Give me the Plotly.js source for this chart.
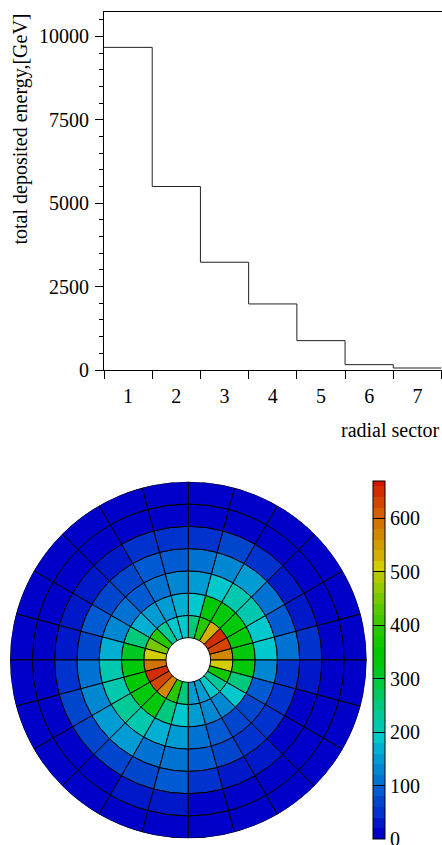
<!DOCTYPE html>
<html><head><meta charset="utf-8">
<script src="https://cdn.plot.ly/plotly-3.0.1.min.js"></script>
<style>html,body{margin:0;padding:0;background:#fff;}#chart{width:442px;height:845px;}</style>
</head><body><div id="chart"></div>
<script>
// ---- data ----
const radialSector = [1, 2, 3, 4, 5, 6, 7];
const totalEnergy = [9670, 5500, 3230, 1980, 880, 160, 60];
const energyTicks = [0, 2500, 5000, 7500, 10000];
const energyTickText = ['0', '2500', '5000', '7500', '10000'];

const angularSector = [0,1,2,3,4,5,6,7,8,9,10,11,12,13,14,15,16,17,18,19,20,21,22,23];
const ring1 = [565, 625, 650, 530, 395, 255, 185, 190, 225, 385, 450, 505, 595, 655, 625, 565, 385, 255, 150, 145, 190, 225, 375, 505];
const ring2 = [330, 330, 325, 330, 345, 185, 170, 150, 140, 165, 245, 315, 330, 345, 335, 325, 250, 195, 140, 120, 120, 180, 245, 325];
const ring3 = [190, 190, 210, 210, 190, 150, 130, 110, 90, 110, 130, 170, 210, 210, 230, 210, 170, 150, 110, 90, 70, 70, 90, 130];
const ring4 = [110, 90, 110, 150, 130, 110, 90, 90, 70, 70, 90, 70, 110, 130, 150, 150, 110, 110, 90, 70, 50, 50, 50, 50];
const ring5 = [40, 30, 30, 50, 70, 50, 50, 50, 30, 30, 30, 30, 50, 70, 70, 70, 70, 90, 50, 30, 30, 10, 10, 30];
const ring6 = [8, 6, 6, 8, 10, 12, 12, 8, 6, 5, 5, 6, 8, 10, 12, 15, 25, 28, 15, 8, 5, 4, 4, 5];
const ring7 = [2, 2, 2, 3, 3, 3, 3, 2, 2, 2, 2, 2, 3, 3, 4, 5, 6, 8, 4, 3, 2, 2, 2, 2];
const colorTicks = [0, 100, 200, 300, 400, 500, 600];
const zMax = 670;
const bandWidth = 20;

// ---- style ----
const palette = [
  'rgb(0,0,200)','rgb(0,25,200)','rgb(0,50,205)','rgb(0,70,205)','rgb(0,90,210)',
  'rgb(0,115,210)','rgb(0,135,210)','rgb(0,155,210)','rgb(0,175,210)','rgb(0,200,205)',
  'rgb(0,200,175)','rgb(0,200,150)','rgb(0,200,125)','rgb(0,200,95)','rgb(0,200,65)',
  'rgb(0,200,35)','rgb(0,200,10)','rgb(0,200,0)','rgb(20,200,0)','rgb(40,200,0)',
  'rgb(65,200,0)','rgb(90,200,0)','rgb(120,200,0)','rgb(150,200,0)','rgb(180,200,0)',
  'rgb(210,205,0)','rgb(210,175,0)','rgb(210,155,0)','rgb(210,135,0)','rgb(210,115,0)',
  'rgb(210,95,0)','rgb(210,70,0)','rgb(210,45,0)','rgb(210,20,0)'
];
const FONT = '"Liberation Serif", "Times New Roman", Times, serif';
const W = 442, H = 845;

// ---- build ----
const rings = [ring1, ring2, ring3, ring4, ring5, ring6, ring7];
const edges = radialSector.map(s => s - 0.5).concat([radialSector[radialSector.length - 1] + 0.5]);
const stepY = totalEnergy.concat([totalEnergy[totalEnergy.length - 1]]);

const step = 360 / angularSector.length;
const theta = [], r = [], base = [], color = [], width = [];
rings.forEach((vals, i) => {
  vals.forEach((v, k) => {
    theta.push((angularSector[k] + 0.5) * step);
    r.push(1);
    base.push(radialSector[i]);
    color.push(v);
    width.push(step);
  });
});

const cMin = 0;
const colorscale = [];
palette.forEach((c, i) => {
  const lo = (Math.min(i * bandWidth, zMax) - cMin) / (zMax - cMin);
  const hi = (Math.min((i + 1) * bandWidth, zMax) - cMin) / (zMax - cMin);
  colorscale.push([lo, c], [hi, c]);
});

const histTrace = {
  type: 'scatter', mode: 'lines', x: edges, y: stepY,
  line: { shape: 'hv', color: '#222', width: 1 },
  xaxis: 'x', yaxis: 'y', hoverinfo: 'skip'
};

const polarTrace = {
  type: 'barpolar', subplot: 'polar', theta: theta, r: r, base: base, width: width,
  hoverinfo: 'skip',
  marker: {
    color: color, colorscale: colorscale, cmin: cMin, cmax: zMax,
    line: { color: 'black', width: 1 },
    colorbar: {
      thickness: 12, thicknessmode: 'pixels', len: 358, lenmode: 'pixels',
      x: 373 / W, xanchor: 'left', xpad: 0,
      y: (H - 660) / H, yanchor: 'middle', ypad: 0,
      outlinecolor: 'black', outlinewidth: 1,
      tickmode: 'array', tickvals: colorTicks, ticktext: colorTicks.map(String),
      ticks: 'inside', ticklen: 12, tickcolor: 'black', tickwidth: 1,
      ticklabeloverflow: 'allow',
      tickfont: { family: FONT, size: 20, color: 'black' }
    }
  }
};

const layout = {
  width: W, height: H, margin: { l: 0, r: 0, t: 0, b: 0 },
  showlegend: false, paper_bgcolor: 'white', plot_bgcolor: 'white',
  font: { family: FONT, size: 20, color: 'black' },
  xaxis: {
    domain: [104 / W, 441.5 / W], anchor: 'y', range: [0.5, 7.5],
    tickmode: 'array', tickvals: radialSector, ticktext: radialSector.map(String),
    ticks: 'outside', ticklen: 0, ticklabelstandoff: 8,
    minor: { tick0: 0.5, dtick: 1, ticks: 'outside', ticklen: 8, tickcolor: 'black', tickwidth: 1, showgrid: false },
    showgrid: false, zeroline: false, showline: true, mirror: true, linecolor: 'black', linewidth: 1,
    tickfont: { family: FONT, size: 20, color: 'black' }
  },
  yaxis: {
    domain: [(H - 370) / H, (H - 12) / H], anchor: 'x', range: [0, 10730],
    tickmode: 'array', tickvals: energyTicks, ticktext: energyTickText,
    ticks: 'outside', ticklen: 8, tickcolor: 'black', tickwidth: 1, ticklabelstandoff: 2,
    minor: { tick0: 0, dtick: 500, ticks: 'outside', ticklen: 4, tickcolor: 'black', tickwidth: 1, showgrid: false },
    showgrid: false, zeroline: false, showline: true, mirror: true, linecolor: 'black', linewidth: 1,
    tickfont: { family: FONT, size: 20, color: 'black' }
  },
  polar: {
    domain: { x: [10 / W, 366.6 / W], y: [6.7 / H, 363.3 / H] },
    bgcolor: 'rgba(0,0,0,0)', bargap: 0,
    radialaxis: { visible: false, range: [0, 8] },
    angularaxis: { visible: false, direction: 'counterclockwise', rotation: 0 }
  },
  annotations: [
    { text: 'total deposited energy,[GeV]', xref: 'paper', yref: 'paper',
      x: 20 / W, y: (H - 13) / H, xanchor: 'center', yanchor: 'top', textangle: -90,
      showarrow: false, font: { family: FONT, size: 20, color: 'black' }, borderpad: 0 },
    { text: 'radial sector', xref: 'paper', yref: 'paper',
      x: 441 / W, y: (H - 430) / H, xanchor: 'right', yanchor: 'middle',
      showarrow: false, font: { family: FONT, size: 20, color: 'black' }, borderpad: 0 }
  ]
};

Plotly.newPlot('chart', [histTrace, polarTrace], layout, { staticPlot: true, displayModeBar: false });
</script>
</body></html>
